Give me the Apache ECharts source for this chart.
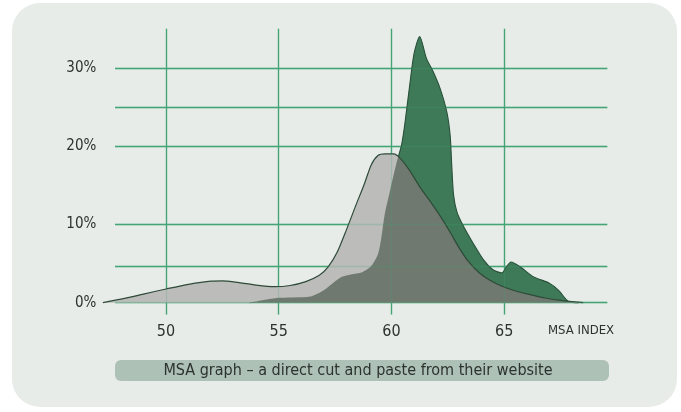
<!DOCTYPE html>
<html><head><meta charset="utf-8">
<script src="https://cdn.jsdelivr.net/npm/echarts@6/dist/echarts.min.js"></script>
<style>html,body{margin:0;background:#fff}#c{width:681px;height:412px}</style>
</head><body><div id="c"></div>
<script>
const xTicks = [50, 55, 60, 65];
const yTicks = [0, 10, 20, 30];
const hLines = [0, 4.7, 10, 20, 25, 30];
const axisName = 'MSA INDEX';
const caption = 'MSA graph – a direct cut and paste from their website';

const grayX = [47.2, 48, 49, 50, 51, 52, 52.5, 53, 54, 54.8, 55.5, 56.2, 56.8, 57.2, 57.6, 58, 58.4, 58.8, 59.1, 59.4, 59.7, 60.1, 60.4, 60.8, 61.3, 61.8, 62.2, 62.6, 63.0, 63.4, 63.9, 64.4, 64.9, 65.5, 66.2, 66.8, 67.5, 68.5];
const grayY = [0, 0.45, 1.1, 1.75, 2.35, 2.75, 2.78, 2.65, 2.25, 2.05, 2.2, 2.7, 3.5, 4.6, 6.5, 9.3, 12.3, 15.2, 17.6, 18.8, 19.0, 19.0, 18.4, 16.9, 14.6, 12.6, 10.9, 9.0, 7.0, 5.3, 3.8, 2.8, 2.1, 1.5, 1.0, 0.6, 0.3, 0];

const greenX = [53.7, 54.9, 56.4, 57.0, 57.4, 57.8, 58.2, 58.7, 59.1, 59.4, 59.55, 59.7, 59.95, 60.2, 60.45, 60.6, 60.8, 61.0, 61.25, 61.55, 61.85, 62.15, 62.45, 62.6, 62.67, 62.75, 62.9, 63.15, 63.6, 64.1, 64.5, 64.9, 65.1, 65.3, 65.7, 66.3, 67.0, 67.4, 67.75, 67.9, 68.3];
const greenY = [0, 0.6, 0.8, 1.6, 2.5, 3.3, 3.6, 3.9, 4.7, 6.2, 8.3, 11.3, 14.5, 17.6, 20.2, 23.0, 27.6, 31.8, 34.0, 31.2, 29.5, 27.4, 24.4, 21.4, 17.6, 13.8, 11.6, 10.0, 7.7, 5.4, 4.2, 3.8, 4.6, 5.2, 4.6, 3.3, 2.5, 1.6, 0.4, 0.1, 0];

const FONT = "'Liberation Sans Narrow','DejaVu Sans Condensed','Arial Narrow',sans-serif";
const TXT = '#2c322e';
const GRIDC = '#45a577';
const X0 = 47, X1 = 70, Y0 = -1.5, Y1 = 35;
const HL0 = 47.74, HL1 = 69.57;
const pairs = (xs, ys) => xs.map((x, i) => [x, ys[i]]);
const gridLines = [
  ...hLines.map(v => [{ coord: [HL0, v] }, { coord: [HL1, v] }]),
  ...xTicks.map(v => [{ coord: [v, Y0] }, { coord: [v, Y1] }])
];
const gridSeries = (z, opacity) => ({
  type: 'line', data: [], z: z, silent: true,
  markLine: {
    silent: true, symbol: ['none', 'none'], animation: false, z: z,
    label: { show: false },
    lineStyle: { color: GRIDC, width: 1.3, type: 'solid', opacity: opacity },
    emphasis: { disabled: true },
    data: gridLines
  }
});

const chart = echarts.init(document.getElementById('c'), null, { renderer: 'canvas' });
chart.setOption({
  animation: false,
  backgroundColor: '#ffffff',
  graphic: [
    { type: 'rect', z: -10, shape: { x: 12, y: 3, width: 665, height: 404, r: 28 }, style: { fill: '#e7ece8' } },
    { type: 'rect', z: 10, shape: { x: 115, y: 360, width: 494, height: 21, r: 6 }, style: { fill: '#adc1b6' } },
    { type: 'text', z: 11, x: 358, y: 371, style: { text: caption, font: '16px ' + FONT, fill: TXT, align: 'center', verticalAlign: 'middle' } },
    { type: 'text', z: 11, x: 548, y: 331, style: { text: axisName, font: '13px ' + FONT, fill: TXT, align: 'left', verticalAlign: 'middle' } }
  ],
  grid: { left: 98.35, right: 64, top: 28.65, bottom: 97.55, containLabel: false },
  xAxis: {
    type: 'value', min: X0, max: X1,
    axisLine: { show: false }, axisTick: { show: false }, splitLine: { show: false },
    axisLabel: { customValues: xTicks, color: TXT, fontSize: 16, fontFamily: FONT, margin: 9 }
  },
  yAxis: {
    type: 'value', min: Y0, max: Y1,
    axisLine: { show: false }, axisTick: { show: false }, splitLine: { show: false },
    axisLabel: { customValues: yTicks, formatter: '{value}%', color: TXT, fontSize: 15, fontFamily: FONT, margin: 2 }
  },
  series: [
    gridSeries(1, 1),
    { name: 'green-base', type: 'line', z: 2, data: pairs(greenX, greenY), smooth: 0.25, symbol: 'none',
      lineStyle: { color: '#23523a', width: 1.1 }, areaStyle: { color: '#41be7d', opacity: 1 } },
    { name: 'gray', type: 'line', z: 3, data: pairs(grayX, grayY), smooth: 0.25, symbol: 'none',
      lineStyle: { width: 0 }, areaStyle: { color: '#bcbcba', opacity: 1 } },
    { name: 'green-over', type: 'line', z: 4, data: pairs(greenX, greenY), smooth: 0.25, symbol: 'none',
      lineStyle: { width: 0 }, areaStyle: { color: '#3c4d3d', opacity: 0.6 } },
    { name: 'gray-line', type: 'line', z: 5, data: pairs(grayX, grayY), smooth: 0.25, symbol: 'none',
      lineStyle: { color: '#2e4a38', width: 1.2 } },
    gridSeries(6, 0.22)
  ]
});
</script>
</body></html>
